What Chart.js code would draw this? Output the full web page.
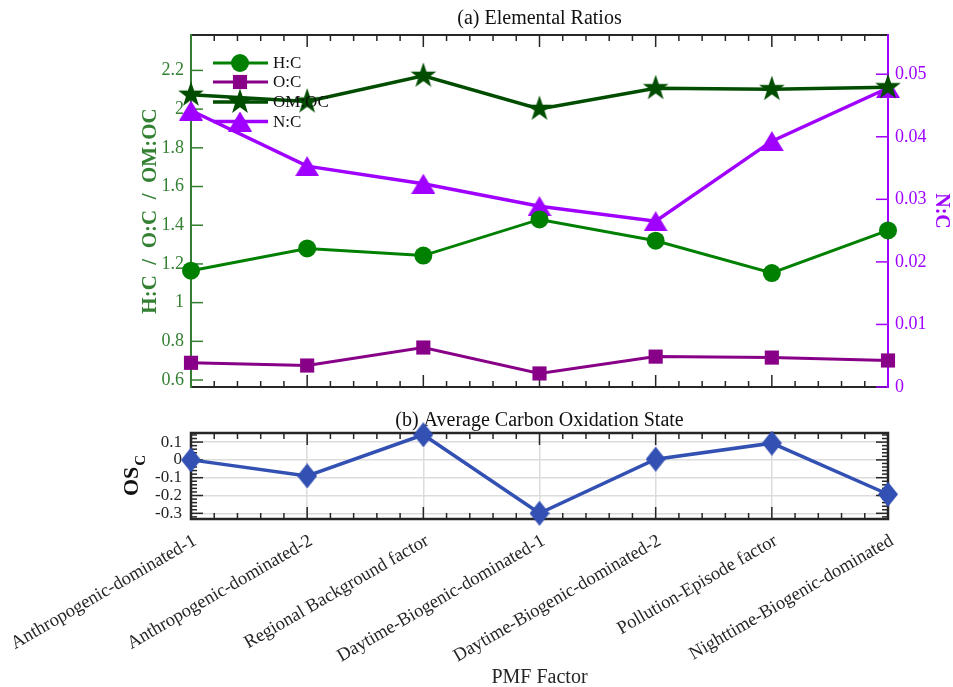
<!DOCTYPE html>
<html>
<head>
<meta charset="utf-8">
<title>Elemental ratios and carbon oxidation state by PMF factor</title>
<script src="https://cdn.jsdelivr.net/npm/chart.js@4.4.1/dist/chart.umd.min.js"></script>
<style>
  html, body { margin: 0; padding: 0; background: #ffffff; }
  #figure { position: relative; width: 953px; height: 687px; overflow: hidden; }
  #ratios { position: absolute; left: 0; top: 0; }
  #oxidation { position: absolute; left: 0; top: 400px; }
</style>
</head>
<body>
<div id="figure">
  <canvas id="ratios" width="953" height="400"></canvas>
  <canvas id="oxidation" width="953" height="287"></canvas>
</div>
<script>
// PMF factors on the shared x axis
const factors = [
  'Anthropogenic-dominated-1',
  'Anthropogenic-dominated-2',
  'Regional Background factor',
  'Daytime-Biogenic-dominated-1',
  'Daytime-Biogenic-dominated-2',
  'Pollution-Episode factor',
  'Nighttime-Biogenic-dominated'
];

// Elemental ratios per factor (left axis)
const hToC   = [1.165, 1.280, 1.243, 1.430, 1.320, 1.153, 1.373];
const oToC   = [0.689, 0.675, 0.768, 0.634, 0.721, 0.716, 0.701];
const omToOc = [2.074, 2.039, 2.172, 2.001, 2.108, 2.103, 2.113];
// N:C (right axis)
const nToC   = [0.0442, 0.0353, 0.0325, 0.0289, 0.0265, 0.0393, 0.0478];
// Average carbon oxidation state
const oscValues = [0.000, -0.090, 0.141, -0.300, 0.004, 0.094, -0.193];

// Tick values
const ratioTicks = [0.6, 0.8, 1, 1.2, 1.4, 1.6, 1.8, 2, 2.2];
const ncTicks    = [0, 0.01, 0.02, 0.03, 0.04, 0.05];
const oscTicks   = [-0.3, -0.2, -0.1, 0, 0.1];

const SERIF = "'Liberation Serif', 'Times New Roman', serif";
const INK = '#262626';
const C_HC = '#008000';
const C_OC = '#880088';
const C_OMOC = '#004d00';
const C_NC = '#9f00ff';
const C_LEFT = '#338033';
const C_OSC = '#3350b3';

const PLOT_LEFT = 191;
const PLOT_RIGHT = 888;
const MAJOR = 12;
const MINOR = 6;

Chart.defaults.font.family = SERIF;

// Filled marker shapes drawn once into small canvases
function markerCanvas(w, h, color, pts) {
  const c = document.createElement('canvas');
  c.width = w; c.height = h;
  const g = c.getContext('2d');
  g.fillStyle = color;
  g.beginPath();
  pts.forEach((p, i) => i ? g.lineTo(p[0], p[1]) : g.moveTo(p[0], p[1]));
  g.closePath();
  g.fill();
  return c;
}
function starPoints(cx, cy, R, r) {
  const pts = [];
  for (let i = 0; i < 10; i++) {
    const rad = i % 2 ? r : R;
    const a = -Math.PI / 2 + i * Math.PI / 5;
    pts.push([cx + rad * Math.cos(a), cy + rad * Math.sin(a)]);
  }
  return pts;
}
const starMark = markerCanvas(28, 28, C_OMOC, starPoints(14, 14, 13.5, 5.3));
const triMark = markerCanvas(24, 20, C_NC, [[12, 0], [24, 20], [0, 20]]);
const diamondMark = markerCanvas(20, 25, C_OSC, [[10, 0], [20, 12.5], [10, 25], [0, 12.5]]);

function seg(ctx, x1, y1, x2, y2) {
  ctx.beginPath(); ctx.moveTo(x1, y1); ctx.lineTo(x2, y2); ctx.stroke();
}
// Major ticks at each factor plus four minor ticks between neighbours
function categoryTicks(ctx, xs, yEdge, dir) {
  for (let i = 0; i < factors.length; i++) {
    const px = xs.getPixelForValue(i);
    seg(ctx, px, yEdge, px, yEdge + dir * MAJOR);
    if (i < factors.length - 1) {
      for (let k = 1; k < 5; k++) {
        const mx = xs.getPixelForValue(i + k / 5);
        seg(ctx, mx, yEdge, mx, yEdge + dir * MINOR);
      }
    }
  }
}
function fixedTicks(values) {
  return scale => { scale.ticks = values.map(v => ({ value: v })); };
}
function fixWidth(w) {
  return scale => { scale.width = w; scale.paddingTop = 0; scale.paddingBottom = 0; };
}
const fmt = v => String(+v.toFixed(4));

function drawMarker(ctx, ds, x, y) {
  const style = ds.pointStyle;
  if (style instanceof HTMLCanvasElement) {
    ctx.drawImage(style, x - style.width / 2, y - style.height / 2);
    return;
  }
  ctx.fillStyle = ds.backgroundColor;
  if (Chart.helpers && Chart.helpers.drawPoint) {
    Chart.helpers.drawPoint(ctx, { pointStyle: style, radius: ds.pointRadius, rotation: 0, borderWidth: 0 }, x, y);
  } else {
    ctx.beginPath(); ctx.arc(x, y, ds.pointRadius, 0, Math.PI * 2); ctx.fill();
  }
}

// Frame, inward ticks, panel title and legend for the ratio panel
const ratioFrame = {
  id: 'ratioFrame',
  beforeDatasetsDraw(chart) {
    const { ctx, chartArea: a, scales } = chart;
    ctx.save();
    ctx.lineCap = 'butt';
    ctx.strokeStyle = INK;
    ctx.lineWidth = 2;
    seg(ctx, a.left, a.top, a.right, a.top);
    seg(ctx, a.left, a.bottom, a.right, a.bottom);
    ctx.lineWidth = 1.5;
    categoryTicks(ctx, scales.x, a.top, 1);
    categoryTicks(ctx, scales.x, a.bottom, -1);
    // left axis
    ctx.strokeStyle = C_LEFT;
    ctx.lineWidth = 2;
    seg(ctx, a.left, a.top - 1, a.left, a.bottom + 1);
    ctx.lineWidth = 1.5;
    ratioTicks.forEach(v => { const py = scales.y.getPixelForValue(v); seg(ctx, a.left, py, a.left + MAJOR, py); });
    // right axis
    ctx.strokeStyle = C_NC;
    ctx.lineWidth = 2;
    seg(ctx, a.right, a.top - 1, a.right, a.bottom + 1);
    ctx.lineWidth = 1.5;
    ncTicks.forEach(v => { const py = scales.y2.getPixelForValue(v); seg(ctx, a.right, py, a.right - MAJOR, py); });
    // title
    ctx.fillStyle = '#111';
    ctx.font = '20px ' + SERIF;
    ctx.textAlign = 'center';
    ctx.textBaseline = 'middle';
    ctx.fillText('(a) Elemental Ratios', (a.left + a.right) / 2, 19);
    ctx.restore();
  },
  afterDatasetsDraw(chart) {
    const { ctx } = chart;
    const rows = [63, 82, 102, 121.5];
    ctx.save();
    chart.data.datasets.forEach((ds, i) => {
      const y = rows[i];
      ctx.strokeStyle = ds.borderColor;
      ctx.lineWidth = ds.borderWidth;
      seg(ctx, 213, y, 268, y);
      drawMarker(ctx, ds, 240, y);
      ctx.fillStyle = '#111';
      ctx.font = '17px ' + SERIF;
      ctx.textAlign = 'left';
      ctx.textBaseline = 'middle';
      ctx.fillText(ds.label, 273, y + 1);
    });
    ctx.restore();
  }
};

new Chart(document.getElementById('ratios'), {
  type: 'line',
  data: {
    labels: factors,
    datasets: [
      { label: 'H:C', data: hToC, yAxisID: 'y', borderColor: C_HC, backgroundColor: C_HC,
        borderWidth: 3, pointStyle: 'circle', pointRadius: 9, pointBorderWidth: 0, clip: false },
      { label: 'O:C', data: oToC, yAxisID: 'y', borderColor: C_OC, backgroundColor: C_OC,
        borderWidth: 3, pointStyle: 'rect', pointRadius: 10, pointBorderWidth: 0, clip: false },
      { label: 'OM:OC', data: omToOc, yAxisID: 'y', borderColor: C_OMOC, backgroundColor: C_OMOC,
        borderWidth: 3.5, pointStyle: starMark, pointRadius: 12, pointBorderWidth: 0, clip: false },
      { label: 'N:C', data: nToC, yAxisID: 'y2', borderColor: C_NC, backgroundColor: C_NC,
        borderWidth: 3.5, pointStyle: triMark, pointRadius: 12, pointBorderWidth: 0, clip: false }
    ]
  },
  options: {
    responsive: false,
    animation: false,
    events: [],
    layout: { autoPadding: false, padding: { left: 138, right: 0, top: 35, bottom: 13 } },
    plugins: { legend: { display: false }, tooltip: { enabled: false } },
    scales: {
      x: { type: 'category', display: false, offset: false },
      y: {
        position: 'left', min: 0.564, max: 2.383,
        afterBuildTicks: fixedTicks(ratioTicks),
        afterFit: fixWidth(PLOT_LEFT - 138),
        grid: { display: false, drawTicks: false },
        border: { display: false },
        ticks: { autoSkip: false, color: C_LEFT, font: { size: 18 }, padding: 7, callback: v => fmt(v) },
        title: { display: true, text: 'H:C  /  O:C  /  OM:OC', color: C_LEFT,
                 font: { size: 21, weight: 'bold' }, padding: 0 }
      },
      y2: {
        position: 'right', min: 0, max: 0.05627,
        afterBuildTicks: fixedTicks(ncTicks),
        afterFit: fixWidth(953 - PLOT_RIGHT),
        grid: { display: false, drawTicks: false },
        border: { display: false },
        ticks: { autoSkip: false, color: C_NC, font: { size: 18 }, padding: 7, callback: v => fmt(v) },
        title: { display: true, text: 'N:C', color: C_NC,
                 font: { size: 20, weight: 'bold' }, padding: 0 }
      }
    }
  },
  plugins: [ratioFrame]
});

// Frame, ticks, title and OS_C label for the oxidation-state panel
const oscFrame = {
  id: 'oscFrame',
  beforeDatasetsDraw(chart) {
    const { ctx, chartArea: a, scales } = chart;
    ctx.save();
    ctx.lineCap = 'butt';
    ctx.strokeStyle = INK;
    ctx.lineWidth = 1.5;
    categoryTicks(ctx, scales.x, a.top, 1);
    categoryTicks(ctx, scales.x, a.bottom, -1);
    const ys = scales.y;
    oscTicks.forEach(v => {
      const py = ys.getPixelForValue(v);
      seg(ctx, a.left, py, a.left + MAJOR, py);
      seg(ctx, a.right, py, a.right - MAJOR, py);
    });
    for (let k = -16; k <= 7; k++) {
      if (k % 5 === 0) continue;
      const py = ys.getPixelForValue(k * 0.02);
      seg(ctx, a.left, py, a.left + MINOR, py);
      seg(ctx, a.right, py, a.right - MINOR, py);
    }
    ctx.lineWidth = 2.5;
    ctx.strokeRect(a.left, a.top, a.right - a.left, a.bottom - a.top);
    // title
    ctx.fillStyle = '#111';
    ctx.font = '20px ' + SERIF;
    ctx.textAlign = 'center';
    ctx.textBaseline = 'middle';
    ctx.fillText('(b) Average Carbon Oxidation State', (a.left + a.right) / 2, 21);
    // y label: OS with subscript C
    ctx.translate(132, (a.top + a.bottom) / 2);
    ctx.rotate(-Math.PI / 2);
    ctx.textAlign = 'left';
    ctx.font = 'bold 22px ' + SERIF;
    const wMain = ctx.measureText('OS').width;
    ctx.font = 'bold 15px ' + SERIF;
    const wSub = ctx.measureText('C').width;
    const x0 = -(wMain + wSub) / 2;
    ctx.font = 'bold 22px ' + SERIF;
    ctx.fillText('OS', x0, 0);
    ctx.font = 'bold 15px ' + SERIF;
    ctx.fillText('C', x0 + wMain + 1, 9);
    ctx.restore();
  }
};

new Chart(document.getElementById('oxidation'), {
  type: 'line',
  data: {
    labels: factors,
    datasets: [
      { label: 'OSc', data: oscValues, borderColor: C_OSC, backgroundColor: C_OSC,
        borderWidth: 3.5, pointStyle: diamondMark, pointRadius: 12, pointBorderWidth: 0, clip: false }
    ]
  },
  options: {
    responsive: false,
    animation: false,
    events: [],
    layout: { autoPadding: false, padding: { left: 0, right: 953 - PLOT_RIGHT, top: 33, bottom: 0 } },
    plugins: { legend: { display: false }, tooltip: { enabled: false } },
    scales: {
      x: {
        type: 'category', offset: false,
        grid: { color: '#dcdcdc', lineWidth: 1.5, drawTicks: false },
        border: { display: false },
        ticks: { autoSkip: false, minRotation: 30, maxRotation: 30, color: INK,
                 font: { size: 18.5 }, padding: 11, labelOffset: 4 },
        title: { display: true, text: 'PMF Factor', color: INK, font: { size: 20 },
                 padding: { top: 0, bottom: -3 } },
        afterFit: s => { s.height = 168; s.paddingLeft = 0; s.paddingRight = 0; }
      },
      y: {
        position: 'left', min: -0.332, max: 0.151,
        afterBuildTicks: fixedTicks(oscTicks),
        afterFit: fixWidth(PLOT_LEFT),
        grid: { color: '#dcdcdc', lineWidth: 1.5, drawTicks: false },
        border: { display: false },
        ticks: { autoSkip: false, color: INK, font: { size: 17 }, padding: 9, callback: v => fmt(v) }
      }
    }
  },
  plugins: [oscFrame]
});
</script>
</body>
</html>
